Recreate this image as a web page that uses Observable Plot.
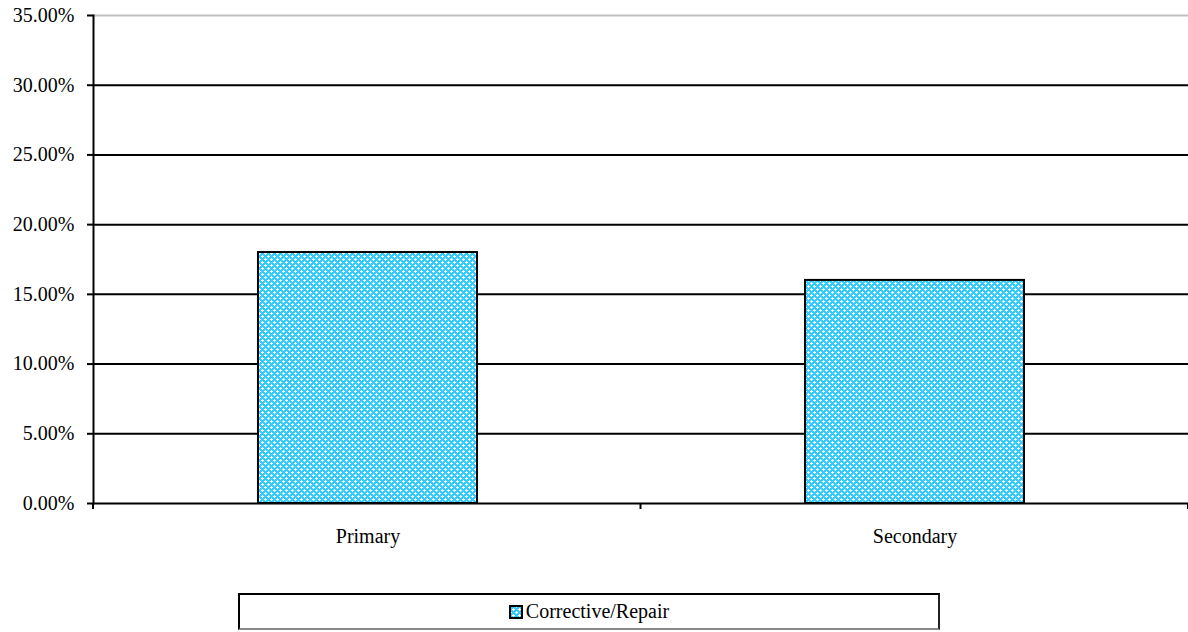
<!DOCTYPE html>
<html>
<head>
<meta charset="utf-8">
<script src="https://cdn.jsdelivr.net/npm/d3@7"></script>
<script src="https://cdn.jsdelivr.net/npm/@observablehq/plot@0.6"></script>
<style>
  html, body { margin: 0; padding: 0; background: #fff; }
  body { width: 1188px; height: 632px; position: relative; overflow: hidden; font-family: "Liberation Serif", "Times New Roman", serif; }
  #legend {
    position: absolute; left: 238px; top: 593px; width: 698px; height: 33px;
    border: 2px solid #000; border-bottom-color: #888; border-right-color: #222;
    display: flex; align-items: center; justify-content: center;
    font-family: "Liberation Serif", "Times New Roman", serif;
    font-size: 20px; color: #000; box-sizing: content-box;
  }
  #legend span { font-family: "Liberation Serif", "Times New Roman", serif; font-size: 20px; }
  #legend svg { margin-right: 3px; }
</style>
</head>
<body>
<div id="chart"></div>
<div id="legend"></div>
<script>
const categories = ["Primary", "Secondary"];
const values = [0.18, 0.16];
const seriesName = "Corrective/Repair";
const yTicks = [0, 0.05, 0.10, 0.15, 0.20, 0.25, 0.30, 0.35];

const data = categories.map((c, i) => ({category: c, value: values[i]}));
const serif = "'Liberation Serif', 'Times New Roman', serif";

const patternDef = (id) => `
  <pattern id="${id}" width="6" height="6" patternUnits="userSpaceOnUse">
    <rect width="6" height="6" fill="#33ccff"></rect>
    <rect x="1" y="0" width="1" height="3" fill="#fff"></rect>
    <rect x="0" y="1" width="3" height="1" fill="#fff"></rect>
    <rect x="4" y="3" width="1" height="3" fill="#fff"></rect>
    <rect x="3" y="4" width="3" height="1" fill="#fff"></rect>
  </pattern>`;

// boundary ticks between categories on the x axis
function categoryTicks(index, scales, values, dims) {
  const g = d3.create("svg:g");
  const x0 = dims.marginLeft, x1 = dims.width - dims.marginRight;
  const n = categories.length;
  const yb = dims.height - dims.marginBottom;
  for (let i = 0; i <= n; i++) {
    const x = x0 + (x1 - x0) * i / n;
    g.append("line").attr("x1", x).attr("x2", x).attr("y1", yb).attr("y2", yb + 6)
      .attr("stroke", "#000").attr("stroke-width", 2);
  }
  return g.node();
}

const chart = Plot.plot({
  width: 1188,
  height: 560,
  marginLeft: 93,
  marginRight: 0,
  marginTop: 15,
  marginBottom: 57,
  style: {fontFamily: serif, fontSize: "20px", color: "#000", background: "#fff"},
  x: {domain: categories, paddingInner: 0.6, paddingOuter: 0.3, label: null},
  y: {domain: [0, 0.35], label: null},
  marks: [
    Plot.ruleY(yTicks.filter(t => t < 0.35), {stroke: "#000", strokeWidth: 2}),
    Plot.ruleY([0.35], {stroke: "#c0c0c0", strokeWidth: 2}),
    Plot.barY(data, {x: "category", y: "value", fill: "url(#hatch)", stroke: "#000", strokeWidth: 2}),
    Plot.axisY({ticks: yTicks, tickSize: 6, tickPadding: 13, strokeWidth: 2, fontSize: 20, fontFamily: serif,
      tickFormat: d => (d * 100).toFixed(2) + "%", label: null}),
    Plot.axisX({tickSize: 0, tickPadding: 25, fontSize: 20, fontFamily: serif, label: null}),
    Plot.frame({anchor: "left", stroke: "#000", strokeWidth: 2}),
    categoryTicks
  ]
});

const defs = d3.select(chart).insert("defs", ":first-child");
defs.html(patternDef("hatch"));
document.getElementById("chart").appendChild(chart);

const legend = document.getElementById("legend");
legend.innerHTML = `<svg width="14" height="14">
  <defs>${patternDef("hatchL")}</defs>
  <rect x="1" y="1" width="12" height="12" fill="url(#hatchL)" stroke="#000" stroke-width="2"></rect>
</svg><span>${seriesName}</span>`;
</script>
</body>
</html>
